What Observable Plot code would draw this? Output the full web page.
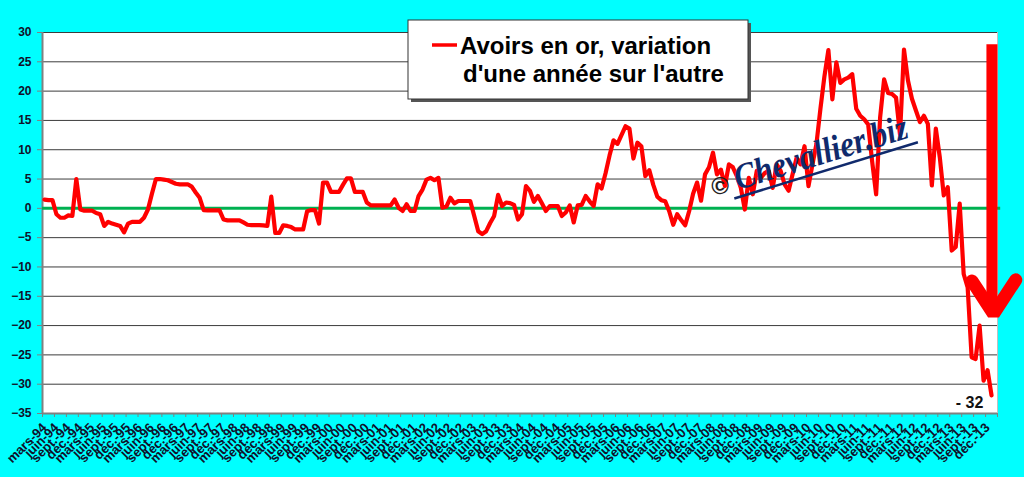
<!DOCTYPE html>
<html><head><meta charset="utf-8">
<script src="https://cdn.jsdelivr.net/npm/d3@7"></script>
<script src="https://cdn.jsdelivr.net/npm/@observablehq/plot@0.6"></script>
<style>
html,body{margin:0;padding:0;background:#00ffff;}
#chart{position:relative;width:1024px;height:477px;overflow:hidden;}
svg{display:block;}
</style></head><body><div id="chart"></div>
<script>
// Monthly series, first value = mars-94 (year-on-year change, %)
const values = [
1.5, 1.4, 1.4, -1.0, -1.6, -1.6, -1.2, -1.3, 5.0, -0.2,
-0.4, -0.4, -0.4, -0.8, -1.0, -3.0, -2.3, -2.6, -2.8, -3.0,
-4.1, -2.6, -2.3, -2.3, -2.3, -1.6, -0.2, 2.5, 5.0, 5.0,
4.9, 4.8, 4.5, 4.2, 4.1, 4.1, 4.1, 3.7, 2.7, 1.8,
-0.3, -0.35, -0.35, -0.35, -0.35, -1.9, -2.05, -2.05, -2.05, -2.05,
-2.4, -2.8, -2.85, -2.85, -2.85, -2.9, -3.0, 2.0, -4.2, -4.2,
-2.9, -3.0, -3.2, -3.6, -3.6, -3.6, -0.5, -0.3, -0.3, -2.6,
4.4, 4.4, 2.8, 2.8, 2.8, 4.0, 5.1, 5.1, 2.8, 2.8,
2.8, 1.0, 0.5, 0.5, 0.5, 0.5, 0.5, 0.5, 1.5, 0.1,
-0.45, 0.7, -0.45, -0.45, 2.1, 3.2, 4.9, 5.2, 4.8, 5.2,
0.1, 0.3, 1.8, 0.85, 1.25, 1.25, 1.25, 1.25, -1.3, -3.9,
-4.4, -3.9, -2.5, -1.3, 2.3, 0.4, 1.0, 0.9, 0.6, -1.9,
-1.0, 3.8, 3.0, 1.1, 2.1, 0.85, -0.45, 0.4, 0.4, 0.4,
-1.3, -0.7, 0.5, -2.4, 0.5, 0.6, 2.1, 1.2, 0.4, 4.1,
3.4, 6.0, 9.0, 11.6, 11.0, 12.5, 14.0, 13.6, 8.5, 11.2,
10.6, 5.5, 6.5, 4.0, 2.0, 1.4, 1.2, -0.5, -2.8, -1.0,
-2.0, -2.9, -0.5, 2.5, 4.4, 1.3, 5.8, 7.0, 9.5, 5.8,
6.6, 3.8, 7.5, 7.0, 5.5, 3.5, -0.2, 5.2, 2.4, 6.4,
5.2, 6.0, 6.4, 3.5, 7.5, 6.4, 4.1, 3.0, 5.8, 8.6,
7.5, 10.6, 3.8, 7.5, 11.0, 17.0, 22.5, 27.0, 18.6, 24.9,
21.4, 22.0, 22.3, 22.9, 17.0, 15.8, 15.2, 14.3, 8.0, 2.4,
15.5, 22.0, 19.7, 19.5, 18.9, 12.6, 27.1, 21.8, 18.7, 16.7,
14.7, 15.8, 14.4, 3.9, 13.6, 8.7, 2.2, 3.6, -7.2, -6.6,
0.8, -11.2, -13.5, -25.4, -25.7, -20.0, -29.4, -27.6, -31.9
];
const tickMonths = ["mars", "juin", "sept.", "déc."];
const tickYears = ["94","95","96","97","98","99","00","01","02","03","04","05","06","07","08","09","10","11","12","13"];
const yTicks = [-35, -30, -25, -20, -15, -10, -5, 0, 5, 10, 15, 20, 25, 30];
const legendLines = ["Avoirs en or, variation", "d'une année sur l'autre"];
const lastLabel = "- 32";
const watermark = "Chevallier.biz";
// annotation arrow (in data units: month index, %)
const arrowShaft = [{u: 238.6, top: 27.9, bottom: -18.0}];
const arrowHead = [{u: 233.6, v: -12.4}, {u: 239.0, v: -18.0}, {u: 244.6, v: -12.2}];

const tickLabels = tickYears.flatMap(y => tickMonths.map(m => `${m}-${y}`));
const rows = values.map((v, i) => ({u: i + 0.5, v}));
const labelTicks = tickLabels.map((_, k) => k * 3 + 0.5);
const minorTicks = d3.range(0, 241, 3);
const F = "'Liberation Sans', Arial, sans-serif";
const axisInk = "#10102a";

const svg = Plot.plot({
  width: 1024, height: 477,
  marginLeft: 42, marginRight: 27, marginTop: 32, marginBottom: 64,
  style: {background: "transparent", fontFamily: F, overflow: "visible"},
  x: {domain: [0, 240], axis: null},
  y: {domain: [-35, 30], axis: null},
  marks: [
    Plot.frame({fill: "white", stroke: "#c0c0c0"}),
    Plot.ruleY(yTicks, {stroke: "#3c3c3c", strokeWidth: 1}),
    Plot.axisY({ticks: yTicks, label: null, tickSize: 5, tickPadding: 6, stroke: "#808080", fill: axisInk, fontSize: 12, fontWeight: "bold"}),
    Plot.axisX({ticks: minorTicks, label: null, tickSize: 4, tickFormat: () => "", stroke: "#808080"}),
    Plot.axisX({ticks: labelTicks, label: null, tickSize: 0, tickPadding: 12, tickRotate: -45,
      tickFormat: d => tickLabels[Math.round((d - 0.5) / 3)], fontSize: 13, fontWeight: "bold", fill: axisInk}),
    Plot.ruleX([0], {stroke: "#808080", strokeWidth: 2}),
    Plot.ruleY([-35], {stroke: "#808080", strokeWidth: 2}),
    Plot.ruleY([0], {x1: 0, x2: 240.8, stroke: "#00b050", strokeWidth: 3}),
    Plot.line(rows, {x: "u", y: "v", stroke: "#ff0000", strokeWidth: 4.2, strokeLinejoin: "round"}),
    Plot.text([rows[rows.length - 1]], {x: "u", y: "v", text: () => lastLabel, dx: -22, dy: 8, fontSize: 16, fontWeight: "bold", fill: "#111"}),
    Plot.ruleX(arrowShaft, {x: "u", y1: "top", y2: "bottom", stroke: "#ff0000", strokeWidth: 11}),
    Plot.line(arrowHead, {x: "u", y: "v", stroke: "#ff0000", strokeWidth: 13, strokeLinecap: "round", strokeLinejoin: "miter"})
  ]
});
document.getElementById("chart").appendChild(svg);

const s = d3.select(svg);
// watermark
s.append("text").text("©").attr("x", 720).attr("y", 194).attr("text-anchor", "middle")
  .attr("font-family", F).attr("font-size", 24).attr("font-weight", "bold").attr("fill", "#222");
const wm = s.append("g").attr("transform", "translate(738,190) rotate(-17)");
wm.append("text").text(watermark).attr("text-anchor", "start")
  .attr("font-family", "'Liberation Serif', serif").attr("font-style", "italic").attr("font-weight", "bold")
  .attr("font-size", 36).attr("fill", "#102a6c").attr("textLength", 180).attr("lengthAdjust", "spacingAndGlyphs");
wm.append("line").attr("x1", -6).attr("x2", 186).attr("y1", 7).attr("y2", 7).attr("stroke", "#102a6c").attr("stroke-width", 2.5);
// legend
const lg = s.append("g").attr("text-anchor", "start");
lg.append("rect").attr("x", 411).attr("y", 23).attr("width", 340).attr("height", 79).attr("fill", "#555");
lg.append("rect").attr("x", 408).attr("y", 20).attr("width", 340).attr("height", 79).attr("fill", "#fff").attr("stroke", "#333");
lg.append("line").attr("x1", 432).attr("x2", 457).attr("y1", 45).attr("y2", 45).attr("stroke", "#ff0000").attr("stroke-width", 3.5);
lg.append("text").text(legendLines[0]).attr("x", 460).attr("y", 54).attr("font-family", F).attr("font-size", 24).attr("font-weight", "bold").attr("fill", "#000");
lg.append("text").text(legendLines[1]).attr("x", 463).attr("y", 82).attr("font-family", F).attr("font-size", 24).attr("font-weight", "bold").attr("fill", "#000");
</script></body></html>
